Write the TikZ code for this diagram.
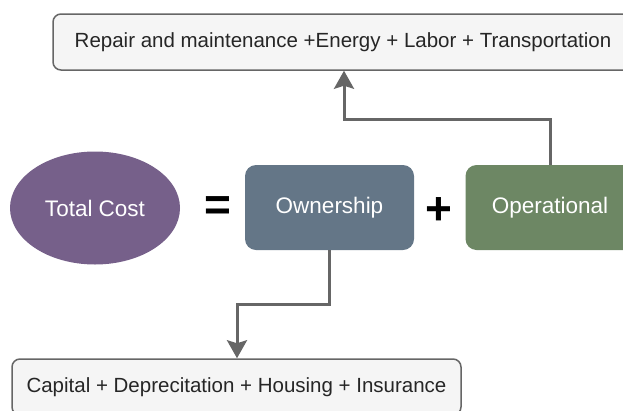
\documentclass[tikz,border=0pt]{standalone}
\usepackage{fontspec}
\setmainfont{Liberation Sans}
\usetikzlibrary{shapes.geometric,arrows.meta}
\definecolor{totalfill}{HTML}{76608A}
\definecolor{ownfill}{HTML}{647687}
\definecolor{opfill}{HTML}{6D8764}
\definecolor{boxfill}{HTML}{F5F5F5}
\definecolor{linegray}{HTML}{666666}

\begin{document}
\begin{tikzpicture}[x=1pt,y=-1pt,
    part/.style={rectangle,rounded corners=11pt,minimum width=169pt,minimum height=85pt,
      text=white,font=\fontsize{22.5}{26}\selectfont},
    termbox/.style={rectangle,rounded corners=8pt,draw=linegray,line width=1.5pt,fill=boxfill,
      minimum height=56pt,text=black!85,font=\fontsize{20.5}{24}\selectfont},
    oper/.style={font=\bfseries\fontsize{46}{50}\selectfont},
    conn/.style={draw=linegray,line width=3pt,-{Stealth[length=18pt,width=20pt,inset=3pt]}}]
    \useasboundingbox (0,0) rectangle (623,410);

    \node[ellipse,fill=totalfill,minimum width=170pt,minimum height=113pt,
      text=white,font=\fontsize{22.5}{26}\selectfont] (total) at (95,208) {Total Cost};
    \node[oper] (eq) at (218,209) {=};
    \node[part,fill=ownfill] (owner) at (329.5,207.5) {Ownership};
    \node[oper] (plus) at (438.5,211) {+};
    \node[part,fill=opfill] (oper) at (550,207.5) {Operational};

    \node[termbox,minimum width=580pt] (repair) at (343,42) {Repair and maintenance +Energy + Labor + Transportation};
    \node[termbox,minimum width=449pt] (capital) at (236.5,387) {Capital + Deprecitation + Housing + Insurance};

    \coordinate (upbend) at (344,119);
    \coordinate (downbend) at (237,304);
    \draw[conn] (oper.north) |- (upbend) -- (upbend |- repair.south);
    \draw[conn] (owner.south) |- (downbend) -- (downbend |- capital.north);
\end{tikzpicture}
\end{document}
